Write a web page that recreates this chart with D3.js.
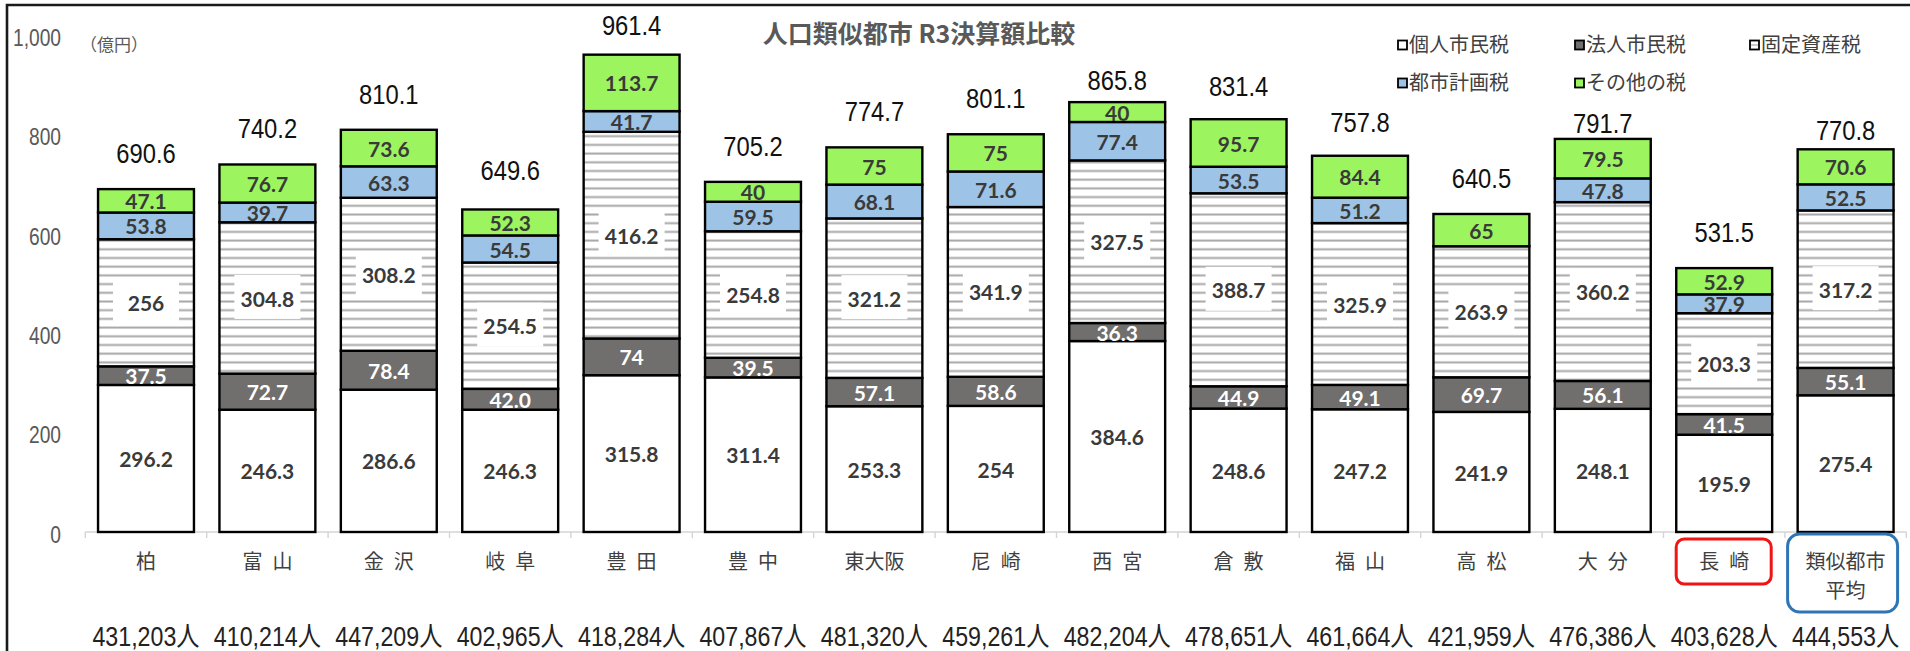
<!DOCTYPE html>
<html>
<head>
<meta charset="utf-8">
<script src="https://cdn.jsdelivr.net/npm/d3@7/dist/d3.min.js"></script>
<style>
  html, body { margin: 0; padding: 0; background: #fff; }
  svg { display: block; }
</style>
</head>
<body>
<svg id="chart" width="1910" height="651"></svg>
<script>
// ---- data (億円) ----
const categories = ["柏", "富\u2002山", "金\u2002沢", "岐\u2002阜", "豊\u2002田", "豊\u2002中", "東大阪",
  "尼\u2002崎", "西\u2002宮", "倉\u2002敷", "福\u2002山", "高\u2002松", "大\u2002分", "長\u2002崎", "類似都市\n平均"];
const population = ["431,203人", "410,214人", "447,209人", "402,965人", "418,284人", "407,867人", "481,320人",
  "459,261人", "482,204人", "478,651人", "461,664人", "421,959人", "476,386人", "403,628人", "444,553人"];

const kojin  = ["296.2", "246.3", "286.6", "246.3", "315.8", "311.4", "253.3", "254", "384.6", "248.6", "247.2", "241.9", "248.1", "195.9", "275.4"];
const hojin  = ["37.5", "72.7", "78.4", "42.0", "74", "39.5", "57.1", "58.6", "36.3", "44.9", "49.1", "69.7", "56.1", "41.5", "55.1"];
const kotei  = ["256", "304.8", "308.2", "254.5", "416.2", "254.8", "321.2", "341.9", "327.5", "388.7", "325.9", "263.9", "360.2", "203.3", "317.2"];
const toshi  = ["53.8", "39.7", "63.3", "54.5", "41.7", "59.5", "68.1", "71.6", "77.4", "53.5", "51.2", "0", "47.8", "37.9", "52.5"];
const sonota = ["47.1", "76.7", "73.6", "52.3", "113.7", "40", "75", "75", "40", "95.7", "84.4", "65", "79.5", "52.9", "70.6"];

const seriesNames = ["個人市民税", "法人市民税", "固定資産税", "都市計画税", "その他の税"];
const seriesKeys = ["kojin", "hojin", "kotei", "toshi", "sonota"];
const yTicks = [0, 200, 400, 600, 800, 1000];

// ---- build rows ----
const raw = { kojin, hojin, kotei, toshi, sonota };
const rows = categories.map((c, i) => {
  const r = { cat: c, idx: i };
  seriesKeys.forEach(k => { r[k] = +raw[k][i]; r[k + "_t"] = raw[k][i]; });
  r.total = d3.sum(seriesKeys, k => r[k]);
  return r;
});

const svg = d3.select("#chart");
const W = 1910, H = 651;

const x = d3.scaleBand()
  .domain(d3.range(categories.length))
  .range([85.3, 1906.3])
  .paddingInner(0.21)
  .paddingOuter(0.105);

const y = d3.scaleLinear().domain([0, 1000]).range([532, 35.5]);

const fills = {
  kojin: "#ffffff",
  hojin: "#716e6e",
  kotei: "url(#hatch)",
  toshi: "#9dc3e6",
  sonota: "#9cf55e"
};
const labelColor = {
  kojin: "#3a3a3a", hojin: "#ffffff", kotei: "#3a3a3a", toshi: "#3a3a3a", sonota: "#3a3a3a"
};

// horizontal-line pattern for 固定資産税
const defs = svg.append("defs");
const pat = defs.append("pattern")
  .attr("id", "hatch")
  .attr("patternUnits", "userSpaceOnUse")
  .attr("width", 20).attr("height", 8.7)
  .attr("y", 532);
pat.append("rect").attr("width", 20).attr("height", 8.7).attr("fill", "#fff");
pat.append("rect").attr("y", 3.4).attr("width", 20).attr("height", 2).attr("fill", "#a8a8a8");

svg.append("rect").attr("width", W).attr("height", H).attr("fill", "#fff");

// ---- frame ----
svg.append("path")
  .attr("d", `M7,${H} L7,5 L${W},5`)
  .attr("fill", "none").attr("stroke", "#1a1a1a").attr("stroke-width", 2.6);

// ---- title ----
svg.append("text")
  .attr("x", 919).attr("y", 34).attr("dy", "0.36em")
  .attr("text-anchor", "middle")
  .attr("font-family", "'Noto Sans CJK JP', sans-serif")
  .attr("font-weight", 700).attr("font-size", 25)
  .attr("fill", "#595959")
  .text("人口類似都市 R3決算額比較");

// ---- unit ----
svg.append("text")
  .attr("x", 80).attr("y", 45).attr("dy", "0.36em")
  .attr("font-family", "'Noto Sans CJK JP', sans-serif")
  .attr("font-size", 17).attr("fill", "#595959")
  .text("（億円）");

// ---- y axis labels ----
const fmtTick = d3.format(",");
svg.append("g").selectAll("text").data(yTicks).join("text")
  .attr("transform", d => `translate(61,${y(d) + 2}) scale(0.8,1)`)
  .attr("dy", "0.36em")
  .attr("text-anchor", "end")
  .attr("font-family", "'Liberation Sans', Arial, sans-serif")
  .attr("font-size", 24).attr("fill", "#595959")
  .text(d => fmtTick(d));

// ---- x axis line + ticks ----
const axisG = svg.append("g").attr("transform", `translate(0,${y(0)})`);
axisG.append("line")
  .attr("x1", 85.3).attr("x2", 1906.3)
  .attr("stroke", "#d4d4d4").attr("stroke-width", 1.6);
const step = x.step();
axisG.selectAll("line.tick").data(d3.range(categories.length + 1)).join("line")
  .attr("class", "tick")
  .attr("x1", d => 85.3 + d * step).attr("x2", d => 85.3 + d * step)
  .attr("y1", 0).attr("y2", 6)
  .attr("stroke", "#d4d4d4").attr("stroke-width", 1.4);

// ---- stacked bars ----
const stack = d3.stack().keys(seriesKeys);
const stacked = stack(rows);

const barG = svg.append("g");
stacked.forEach(layer => {
  const key = layer.key;
  barG.append("g").selectAll("rect")
    .data(layer.filter(d => d[1] - d[0] > 0))
    .join("rect")
    .attr("x", d => x(d.data.idx))
    .attr("width", x.bandwidth())
    .attr("y", d => y(d[1]))
    .attr("height", d => y(d[0]) - y(d[1]))
    .attr("fill", fills[key])
    .attr("stroke", "#000")
    .attr("stroke-width", 2.4);
});

// ---- segment labels ----
const segG = svg.append("g");
stacked.forEach(layer => {
  const key = layer.key;
  const g = segG.append("g");
  const items = layer.filter(d => d[1] - d[0] > 0);
  items.forEach(d => {
    const cx = x(d.data.idx) + x.bandwidth() / 2;
    const cy = (y(d[0]) + y(d[1])) / 2;
    const t = d.data[key + "_t"];
    if (key === "kotei") {
      g.append("rect")
        .attr("x", cx - 33).attr("y", cy - 23)
        .attr("width", 66).attr("height", 44)
        .attr("fill", "#fff");
    }
    g.append("text")
      .attr("x", cx).attr("y", cy + 1).attr("dy", "0.36em")
      .attr("text-anchor", "middle")
      .attr("font-family", "Lato, 'Liberation Sans', sans-serif")
      .attr("font-weight", 700).attr("font-size", 21)
      .attr("fill", labelColor[key])
      .text(t);
  });
});

// ---- totals ----
// gap (px) between the bar top and the centre of its total label;
// a few labels sit closer to their bar to stay clear of the title and legend
const totalGap = { default: 36, 3: 39, 4: 29, 8: 21.5, 9: 33, 10: 33, 12: 16, 14: 19 };
const fmtTotal = d3.format(".1f");
svg.append("g").selectAll("text").data(rows).join("text")
  .attr("transform", d => {
    const gap = totalGap[d.idx] !== undefined ? totalGap[d.idx] : totalGap.default;
    return `translate(${x(d.idx) + x.bandwidth() / 2},${y(d.total) - gap}) scale(0.88,1)`;
  })
  .attr("dy", "0.36em")
  .attr("text-anchor", "middle")
  .attr("font-family", "'Liberation Sans', Arial, sans-serif")
  .attr("font-size", 27).attr("fill", "#111")
  .text(d => fmtTotal(d.total));

// ---- category labels ----
const catG = svg.append("g");
rows.forEach(d => {
  const cx = x(d.idx) + x.bandwidth() / 2;
  const lines = d.cat.split("\n");
  lines.forEach((ln, j) => {
    catG.append("text")
      .attr("x", cx).attr("y", 562 + j * 29).attr("dy", "0.36em")
      .attr("text-anchor", "middle")
      .attr("font-family", "'Noto Sans CJK JP', sans-serif")
      .attr("font-size", 20).attr("fill", "#404040")
      .text(ln);
  });
});

// highlight boxes around 長崎 and the average
const iN = categories.indexOf("長\u2002崎");
const iA = categories.length - 1;
svg.append("rect")
  .attr("x", x(iN) + x.bandwidth() / 2 - 48).attr("y", 539)
  .attr("width", 95).attr("height", 45).attr("rx", 8)
  .attr("fill", "none").attr("stroke", "#f01414").attr("stroke-width", 3);
svg.append("rect")
  .attr("x", x(iA) + x.bandwidth() / 2 - 58).attr("y", 534)
  .attr("width", 110).attr("height", 78).attr("rx", 12)
  .attr("fill", "none").attr("stroke", "#2e75b6").attr("stroke-width", 3);

// ---- population labels ----
svg.append("g").selectAll("text").data(rows).join("text")
  .attr("transform", d => `translate(${x(d.idx) + x.bandwidth() / 2},636) scale(0.86,1)`)
  .attr("dy", "0.36em")
  .attr("text-anchor", "middle")
  .attr("font-family", "'Liberation Sans', 'Noto Sans CJK JP', sans-serif")
  .attr("font-size", 27).attr("fill", "#222")
  .text((d, i) => population[i]);

// ---- legend ----
const legendPos = [[1398, 45], [1575, 45], [1750, 45], [1398, 83], [1575, 83]];
const legendFill = ["#ffffff", "#716e6e", "#ffffff", "#9dc3e6", "#9cf55e"];
const lg = svg.append("g");
seriesNames.forEach((name, i) => {
  const [lx, ly] = legendPos[i];
  lg.append("rect")
    .attr("x", lx).attr("y", ly - 4.5)
    .attr("width", 9).attr("height", 9)
    .attr("fill", legendFill[i]).attr("stroke", "#000").attr("stroke-width", 1.8);
  if (i === 2) {
    lg.append("line").attr("x1", lx + 1).attr("x2", lx + 8).attr("y1", ly).attr("y2", ly)
      .attr("stroke", "#999").attr("stroke-width", 1);
  }
  lg.append("text")
    .attr("x", lx + 11).attr("y", ly).attr("dy", "0.36em")
    .attr("font-family", "'Noto Sans CJK JP', sans-serif")
    .attr("font-size", 20).attr("fill", "#404040")
    .text(name);
});
</script>
</body>
</html>
